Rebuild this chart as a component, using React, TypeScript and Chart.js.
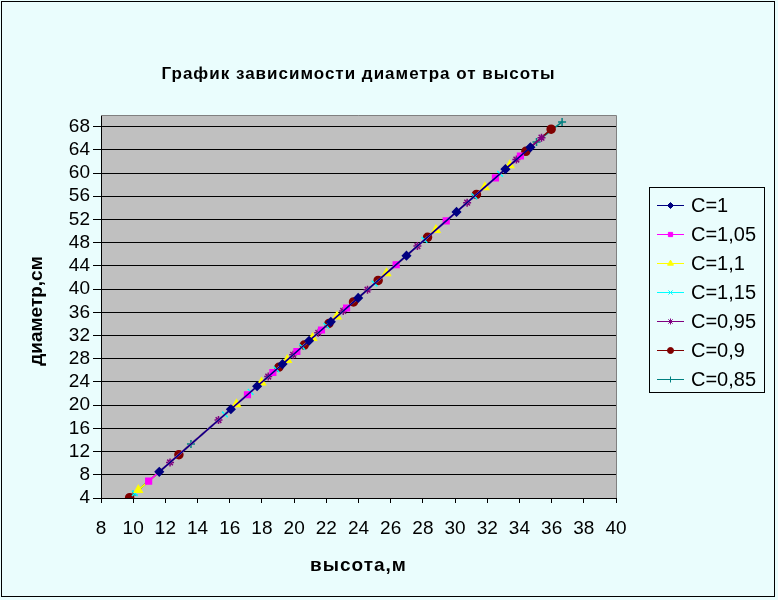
import React, { useEffect, useRef } from "react";
import { Chart, registerables } from "chart.js";
import { drawPoint } from "chart.js/helpers";

Chart.register(...registerables);

const TITLE = "График зависимости диаметра от высоты";
const X_TITLE = "высота,м";
const Y_TITLE = "диаметр,см";

const SERIES_NAMES = ["C=1", "C=1,05", "C=1,1", "C=1,15", "C=0,95", "C=0,9", "C=0,85"];

// heights (x) and diameters (y) per series
const H_C100 = [11.62, 16.07, 17.7, 19.28, 20.93, 22.28, 23.98, 26.98, 30.09, 33.13, 34.68];
const D_C100 = [8.51, 19.3, 23.25, 27.08, 31.09, 34.36, 38.48, 45.76, 53.3, 60.67, 64.43];

const H_C105 = [10.96, 17.1, 18.68, 20.17, 21.7, 23.26, 26.34, 29.45, 32.51, 34.06];
const D_C105 = [6.91, 21.8, 25.63, 29.24, 32.95, 36.74, 44.2, 51.75, 59.17, 62.93];

const H_C110 = [10.32, 16.42, 17.97, 19.57, 21.14, 22.66, 25.74, 28.81, 31.85, 33.4];
const D_C110 = [5.36, 20.15, 23.91, 27.79, 31.59, 35.28, 42.75, 50.19, 57.57, 61.33];

const H_C115 = [10.1, 15.7, 17.3, 18.9, 20.5, 22.0, 25.0, 28.1, 31.2, 32.8];
const D_C115 = [4.82, 18.4, 22.28, 26.16, 30.04, 33.68, 40.96, 48.47, 55.99, 59.87];

const H_C095 = [12.29, 15.3, 18.39, 19.94, 21.5, 23.05, 24.56, 27.66, 30.75, 33.81, 35.37];
const D_C095 = [10.13, 17.43, 24.93, 28.68, 32.47, 36.23, 39.89, 47.41, 54.9, 62.32, 66.1];

const H_C090 = [9.78, 12.84, 19.05, 20.63, 22.16, 23.69, 25.22, 28.29, 31.33, 34.4, 35.97];
const D_C090 = [4.05, 11.47, 26.53, 30.36, 34.07, 37.78, 41.49, 48.93, 56.31, 63.75, 67.56];

const H_C085 = [10.0, 13.59, 19.05, 22.16, 25.22, 28.29, 31.33, 35.06, 36.65];
const D_C085 = [4.58, 13.29, 26.53, 34.07, 41.49, 48.93, 56.31, 65.35, 68.8];

const X_MIN = 8, X_MAX = 40, X_STEP = 2;
const Y_MIN = 4, Y_MAX = 70, Y_STEP = 4;

const COLORS = ["#000080", "#FF00FF", "#FFFF00", "#00FFFF", "#800080", "#800000", "#008080"];
const STYLES = ["rectRot", "rect", "triangle", "crossRot", "star", "circle", "cross"];
const RADII = [4, 4, 4.5, 4, 4, 4, 4];

const XS = [H_C100, H_C105, H_C110, H_C115, H_C095, H_C090, H_C085];
const YS = [D_C100, D_C105, D_C110, D_C115, D_C095, D_C090, D_C085];

const BG = "#EAFDFD";
const FONT = "'Liberation Sans', Arial, sans-serif";

export default function App() {
  const ref = useRef<HTMLCanvasElement | null>(null);

  useEffect(() => {
    if (!ref.current) return;
    const datasets = SERIES_NAMES.map((name, i) => ({
      label: name,
      data: XS[i].map((x, j) => ({ x, y: YS[i][j] })),
      borderColor: COLORS[i],
      backgroundColor: COLORS[i],
      pointBorderColor: COLORS[i],
      pointBackgroundColor: COLORS[i],
      pointStyle: STYLES[i],
      pointRadius: RADII[i],
      pointBorderWidth: 1.5,
      borderWidth: 1.5,
      showLine: true,
      fill: false,
    }));

    const decor = {
      id: "decor",
      beforeDraw(chart: any) {
        const { ctx, chartArea: a } = chart;
        ctx.save();
        ctx.fillStyle = BG;
        ctx.fillRect(0, 0, chart.width, chart.height);
        ctx.fillStyle = "#C0C0C0";
        ctx.fillRect(a.left, a.top, a.right - a.left, a.bottom - a.top);
        ctx.restore();
      },
      afterDraw(chart: any) {
        const { ctx, chartArea: a } = chart;
        ctx.save();
        // plot top/right border
        ctx.strokeStyle = "#808080";
        ctx.lineWidth = 1;
        ctx.beginPath();
        ctx.moveTo(a.left, a.top + 0.5);
        ctx.lineTo(a.right + 0.5, a.top + 0.5);
        ctx.lineTo(a.right + 0.5, a.bottom);
        ctx.stroke();
        // outer border
        ctx.strokeStyle = "#000";
        ctx.strokeRect(1.5, 1.5, 773, 595);
        // title
        ctx.fillStyle = "#000";
        ctx.textAlign = "center";
        ctx.textBaseline = "middle";
        ctx.font = `bold 17px ${FONT}`;
        (ctx as any).letterSpacing = "1px";
        ctx.fillText(TITLE, (a.left + a.right) / 2, 74);
        // x title
        (ctx as any).letterSpacing = "1px";
        ctx.font = `bold 19px ${FONT}`;
        ctx.fillText(X_TITLE, (a.left + a.right) / 2, 566);
        // y title
        (ctx as any).letterSpacing = "0px";
        ctx.font = `bold 19px ${FONT}`;
        ctx.save();
        ctx.translate(37, 311);
        ctx.rotate(-Math.PI / 2);
        ctx.fillText(Y_TITLE, 0, 0);
        ctx.restore();
        // legend
        const lx = 649.5, ly = 187.5, lw = 115, lh = 205;
        ctx.fillStyle = BG;
        ctx.fillRect(lx, ly, lw, lh);
        ctx.strokeStyle = "#000";
        ctx.strokeRect(lx, ly, lw, lh);
        ctx.font = `20px ${FONT}`;
        ctx.textAlign = "left";
        SERIES_NAMES.forEach((name, i) => {
          const cy = 205 + i * 29.05;
          ctx.strokeStyle = COLORS[i];
          ctx.lineWidth = 1;
          ctx.beginPath();
          ctx.moveTo(657, Math.round(cy) + 0.5);
          ctx.lineTo(684, Math.round(cy) + 0.5);
          ctx.stroke();
          ctx.fillStyle = COLORS[i];
          drawPoint(ctx, { pointStyle: STYLES[i], radius: RADII[i] * 0.75, rotation: 0, borderWidth: 1 }, 670.5, Math.round(cy) + 0.5);
          ctx.fillStyle = "#000";
          ctx.fillText(name, 691, cy + 1);
        });
        ctx.restore();
      },
    };

    const chart = new Chart(ref.current, {
      type: "scatter",
      data: { datasets },
      options: {
        animation: false,
        responsive: false,
        devicePixelRatio: 1,
        layout: { padding: { left: 41, right: 162, top: 115, bottom: 62 } },
        plugins: { legend: { display: false }, title: { display: false }, tooltip: { enabled: false } },
        scales: {
          x: {
            type: "linear",
            min: X_MIN,
            max: X_MAX,
            afterFit: (s: any) => { s.height = 40; },
            ticks: { stepSize: X_STEP, color: "#000", font: { family: FONT, size: 19 }, padding: 14, maxRotation: 0, autoSkip: false, includeBounds: false },
            grid: { drawOnChartArea: false, color: "#000", tickLength: 5, lineWidth: 1 },
            border: { display: true, color: "#000", width: 1 },
          },
          y: {
            type: "linear",
            min: Y_MIN,
            max: Y_MAX,
            afterFit: (s: any) => { s.width = 60; },
            ticks: { stepSize: Y_STEP, color: "#000", font: { family: FONT, size: 19 }, padding: 3, autoSkip: false, includeBounds: false },
            grid: { color: "#000", tickLength: 8, lineWidth: 1 },
            border: { display: true, color: "#000", width: 1 },
          },
        },
      },
      plugins: [decor],
    });
    return () => chart.destroy();
  }, []);

  return (
    <div style={{ position: "fixed", left: 0, top: 0, width: 778, height: 600 }}>
      <canvas ref={ref} width={778} height={600} style={{ width: 778, height: 600, display: "block" }} />
    </div>
  );
}
